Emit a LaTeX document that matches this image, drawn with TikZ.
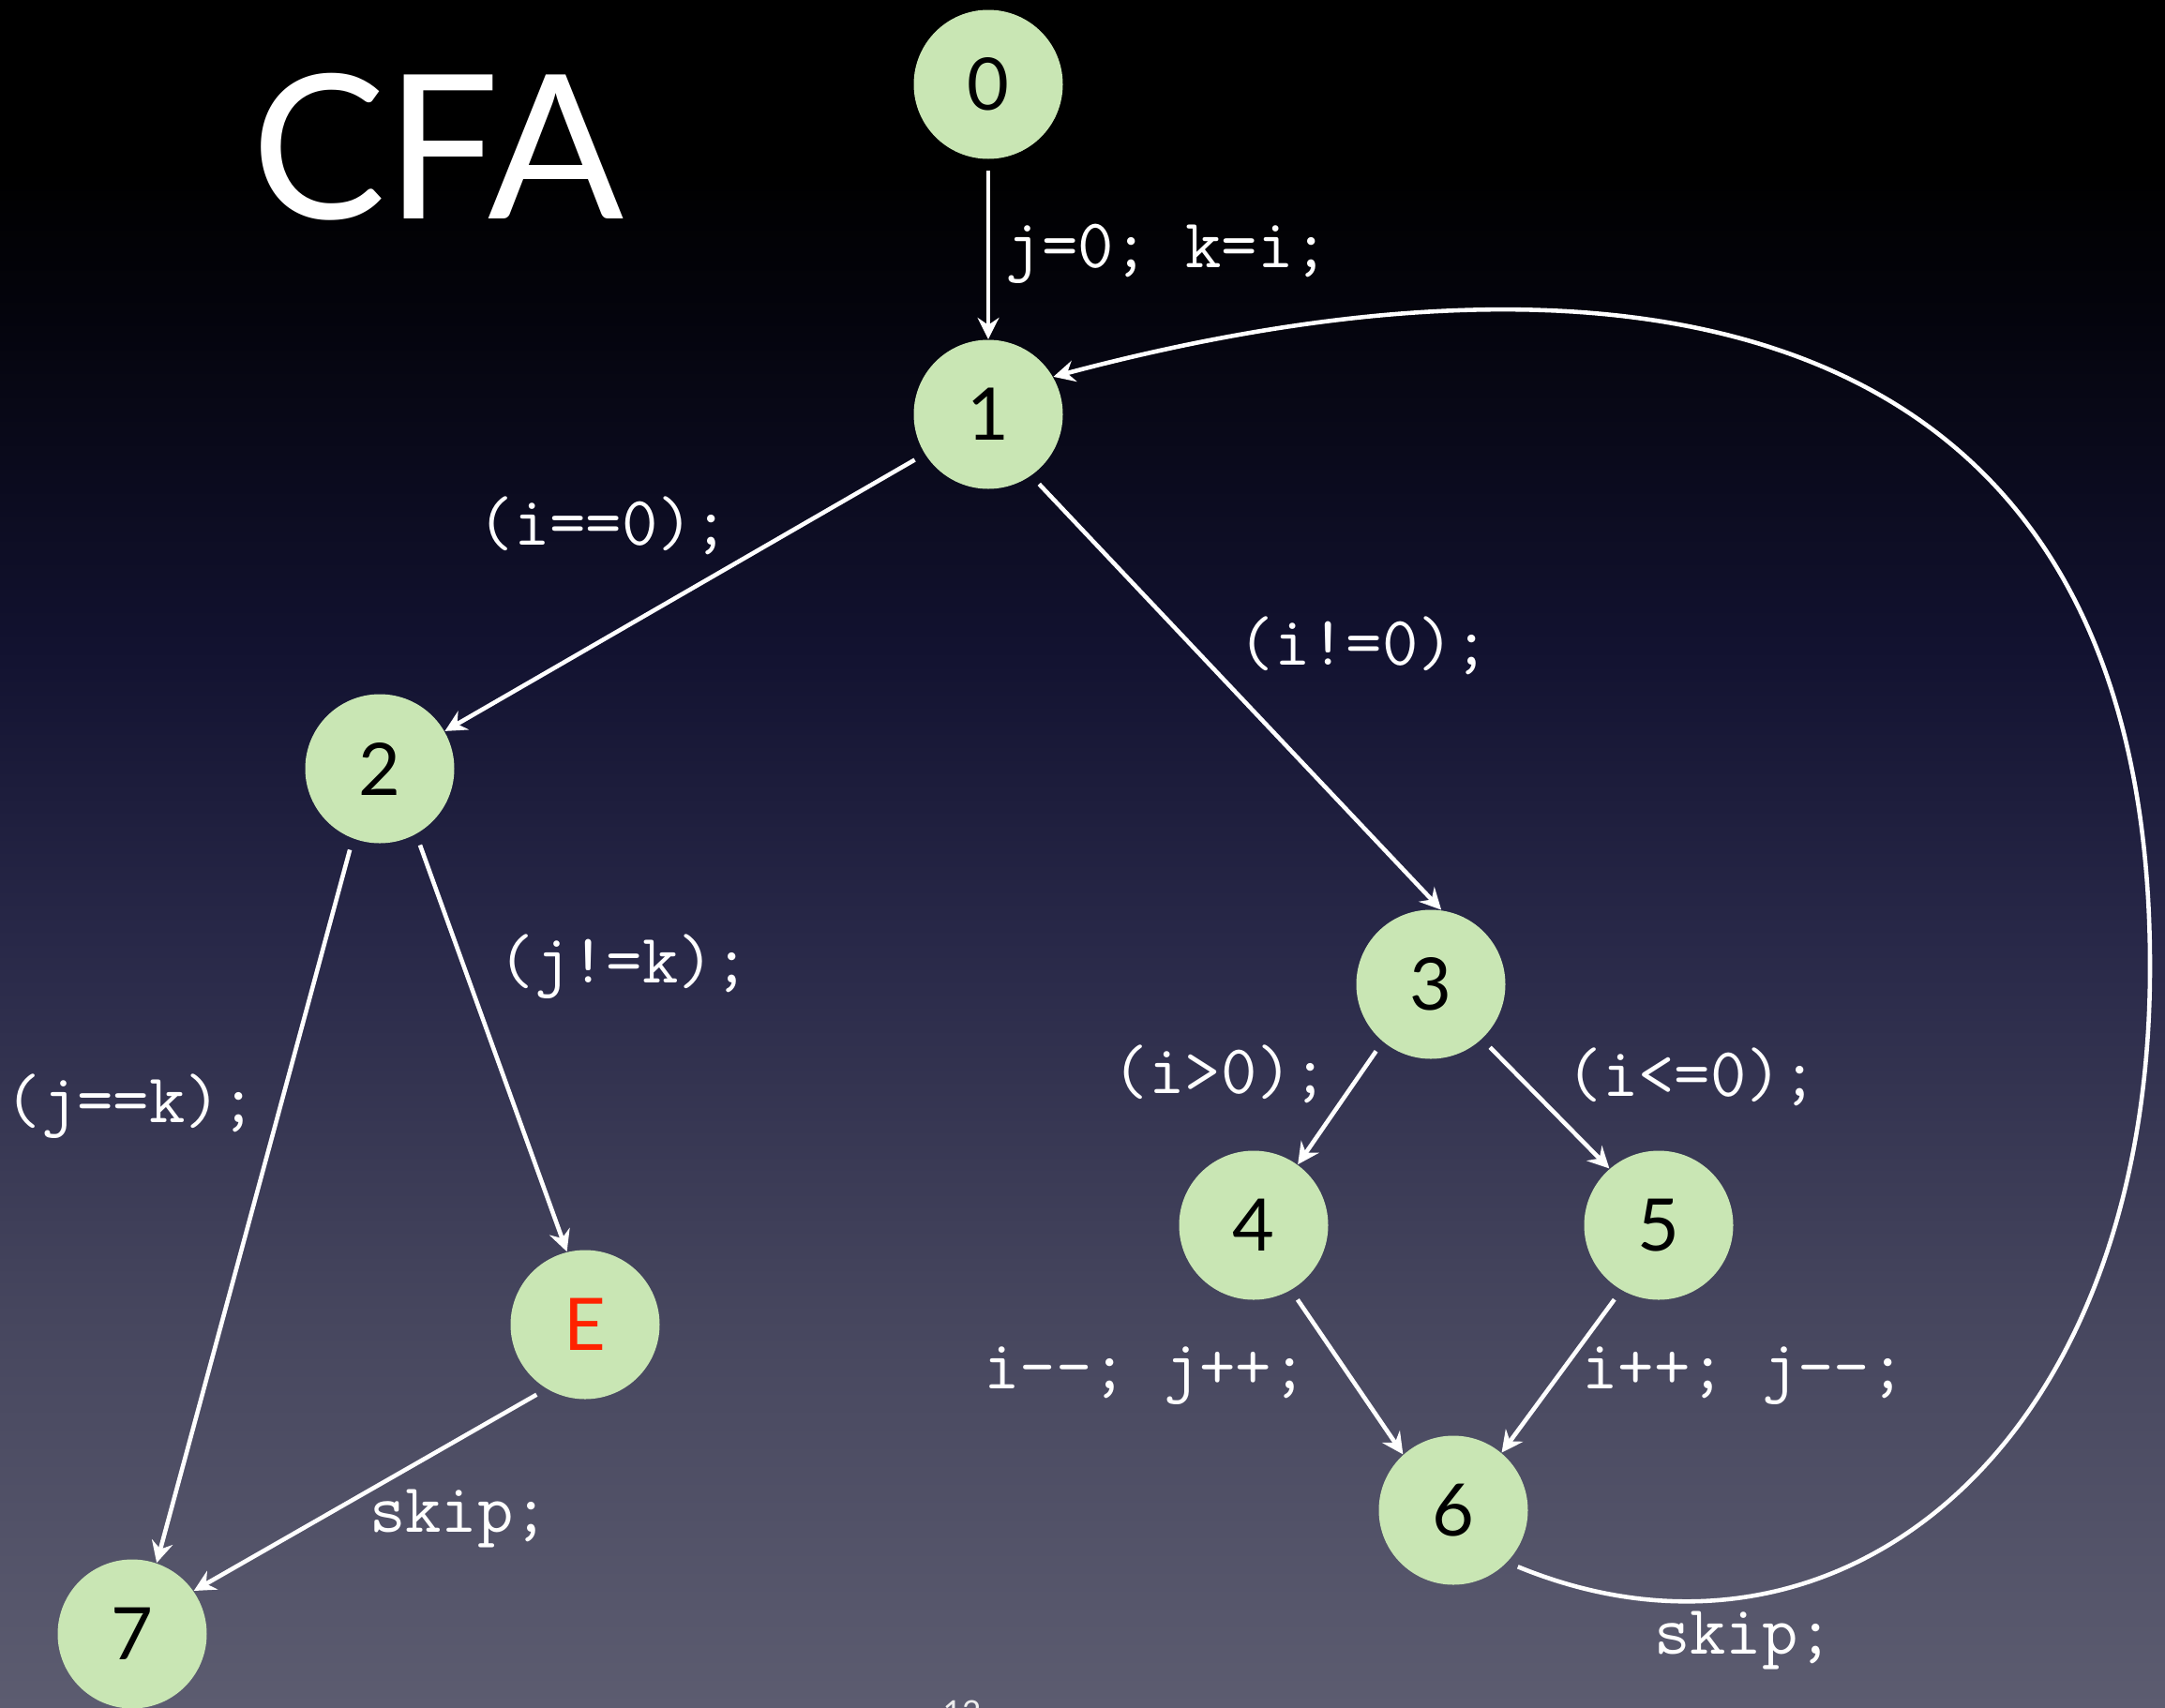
\documentclass[tikz,border=0pt]{standalone}
\usepackage{fontspec}
\newfontfamily\gillfont{Lato}
\usetikzlibrary{arrows.meta}

\definecolor{locgreen}{RGB}{201,230,180}
\definecolor{errred}{RGB}{255,34,0}
\definecolor{bgA}{RGB}{3,3,10}
\definecolor{bgB}{RGB}{18,18,48}
\definecolor{bgC}{RGB}{40,40,72}
\definecolor{bgD}{RGB}{70,70,94}
\definecolor{bgE}{RGB}{92,92,112}
\pgfdeclareverticalshading{slidebg}{100bp}{color(0bp)=(bgE); color(25bp)=(bgE);
  color(36.5bp)=(bgD); color(47.5bp)=(bgC); color(56bp)=(bgB);
  color(66.5bp)=(bgA); color(70bp)=(black); color(100bp)=(black)}

\begin{document}
\begin{tikzpicture}[>={Stealth[length=6.5pt,width=6.5pt,inset=2.2pt]},
  loc/.style={circle, fill=locgreen, minimum size=1.59cm, inner sep=0pt,
    font=\gillfont\fontsize{22}{22}\selectfont},
  guard/.style={text=white, font=\ttfamily\fontsize{21.2}{21.2}\selectfont, inner sep=0pt},
  flow/.style={->, white, line width=1.3pt, shorten <=0.12cm}]
  \useasboundingbox (0,0) rectangle (23.09,-18.21);
  \shade[shading=slidebg] (0,0) rectangle (23.09,-18.21);
  \node[text=white, font=\gillfont\fontsize{61}{61}\selectfont, anchor=base] (title) at (4.67,-2.33) {CFA};
  % locations
  \node[loc] (n0) at (10.54,-0.90) {0};
  \node[loc] (n1) at (10.54,-4.42) {1};
  \node[loc] (n2) at (4.05,-8.20) {2};
  \node[loc] (n3) at (15.26,-10.50) {3};
  \node[loc] (n4) at (13.37,-13.07) {4};
  \node[loc] (n5) at (17.69,-13.07) {5};
  \node[loc, text=errred] (nE) at (6.24,-14.13) {E};
  \node[loc] (n6) at (15.50,-16.11) {6};
  \node[loc] (n7) at (1.41,-17.43) {7};
  % edges
  \draw[flow] (n0.-90) -- (n1.90);
  \draw[flow] (n1.-148) -- (n2.30);
  \draw[flow] (n1.-55) -- (n3.82);
  \draw[flow] (n2.-61) -- (nE.104);
  \draw[flow] (n2.-111) -- (n7.71);
  \draw[flow] (nE.-121) -- (n7.35);
  \draw[flow] (n3.-130) -- (n4.54);
  \draw[flow] (n3.-47) -- (n5.131);
  \draw[flow] (n4.-60) -- (n6.132);
  \draw[flow] (n5.-120) -- (n6.50);
  % loop back to 1
  \draw[flow] (n6.-44) .. controls (19.59,-18.11) and (22.93,-15.46) .. (22.93,-10.31)
    .. controls (22.93,-2.95) and (16.94,-2.50) .. (n1.30);
  % guards and assignments
  \node[guard, anchor=west] (g01) at (10.72,-2.71) {j=0; k=i;};
  \node[guard] (g12) at (6.44,-5.61) {(i==0);};
  \node[guard] (g13) at (14.55,-6.89) {(i!=0);};
  \node[guard] (g2E) at (6.66,-10.31) {(j!=k);};
  \node[guard] (g27) at (1.40,-11.80) {(j==k);};
  \node[guard] (gE7) at (4.90,-16.20) {skip;};
  \node[guard] (g34) at (13.02,-11.46) {(i>0);};
  \node[guard] (g35) at (18.05,-11.49) {(i<=0);};
  \node[guard] (g46) at (12.22,-14.68) {i--; j++;};
  \node[guard] (g56) at (18.60,-14.68) {i++; j--;};
  \node[guard] (g61) at (18.60,-17.50) {skip;};
  \node[text=white!85!gray, font=\gillfont\fontsize{10}{10}\selectfont, anchor=base] (pageno) at (10.26,-18.39) {12};
\end{tikzpicture}
\end{document}
